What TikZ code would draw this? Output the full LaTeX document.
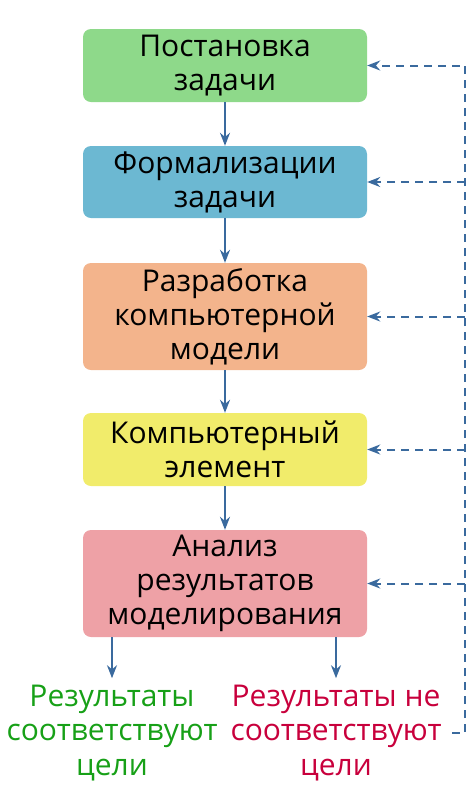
\documentclass[tikz,border=0pt]{standalone}
\usepackage{fontspec}
\setmainfont{Open Sans}
\usetikzlibrary{positioning,calc,arrows.meta}
\definecolor{boxgreen}{HTML}{8ED98A}
\definecolor{boxblue}{HTML}{6CB8D2}
\definecolor{boxorange}{HTML}{F3B48C}
\definecolor{boxyellow}{HTML}{F1EC6B}
\definecolor{boxpink}{HTML}{EEA1A6}
\definecolor{linkblue}{HTML}{3A6A9E}
\definecolor{okgreen}{HTML}{17A017}
\definecolor{failred}{HTML}{C8003C}

\begin{document}
\begin{tikzpicture}[x=1pt,y=-1pt,
    stage/.style={rounded corners=8pt, minimum width=284pt, text width=282pt,
        align=center, inner sep=0pt, font=\fontsize{30}{34}\selectfont},
    outcome/.style={align=center, inner sep=0pt, font=\fontsize{30}{34.5}\selectfont},
    arr/.style={draw=linkblue, line width=2pt, -{Stealth[length=13pt,width=10pt]}},
    fb/.style={arr, dash pattern=on 8pt off 6pt}]
    \useasboundingbox (0,0) rectangle (474,812);

    % Stages
    \node[stage, fill=boxgreen, minimum height=73pt] (task) at (225,65.5) {Постановка\\задачи};
    \node[stage, fill=boxblue, minimum height=72pt] (formal) at (225,182) {Формализации\\задачи};
    \node[stage, fill=boxorange, minimum height=107pt] (model) at (225,316.5) {Разработка\\компьютерной\\модели};
    \node[stage, fill=boxyellow, minimum height=73pt] (exper) at (225,449.5) {Компьютерный\\элемент};
    \node[stage, fill=boxpink, minimum height=107pt] (anal) at (225,583.5) {Анализ\\результатов\\моделирования};

    % Outcomes
    \node[outcome, text=okgreen] (ok) at (112,733) {Результаты\\соответствуют\\цели};
    \node[outcome, text=failred] (fail) at (336,733) {Результаты не\\соответствуют\\цели};

    % Main flow
    \draw[arr] (task) -- (formal);
    \draw[arr] (formal) -- (model);
    \draw[arr] (model) -- (exper);
    \draw[arr] (exper) -- (anal);
    \draw[arr] (anal.south -| ok) -- ++(0,41);
    \draw[arr] (anal.south -| fail) -- ++(0,41);

    % Feedback
    \coordinate (bend) at (465,733);
    \draw[fb] ([xshift=-13pt]bend) -- (bend) -- (bend |- task.east) -- (task.east);
    \foreach \s in {formal, model, exper, anal}
        \draw[fb] (bend |- \s.east) -- (\s.east);
\end{tikzpicture}
\end{document}
